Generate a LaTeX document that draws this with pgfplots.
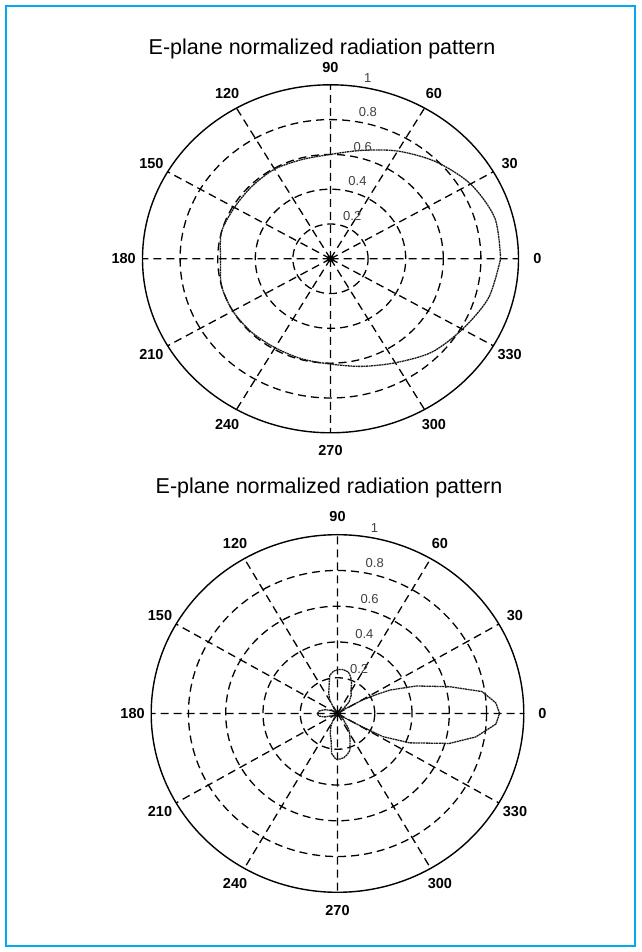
\documentclass[border=0pt]{standalone}
\usepackage{pgfplots}
\pgfplotsset{compat=1.18}
\usepackage{pgfplotstable}
\usepgfplotslibrary{polar}
\usepackage{fontspec}
\setmainfont{Liberation Sans}
\definecolor{framecol}{RGB}{0,170,235}

\pgfplotstableread{
ang r
0 0.905
15 0.905
30 0.86
45 0.79
60 0.715
75 0.645
90 0.60
105 0.59
120 0.595
135 0.59
150 0.59
165 0.60
180 0.585
195 0.60
210 0.60
225 0.595
240 0.59
255 0.595
270 0.605
285 0.64
300 0.69
315 0.76
330 0.81
345 0.87
360 0.905
}\toppattern

\pgfplotstableread{
ang r
0 0.870
4 0.852
9 0.785
14 0.62
20 0.45
25 0.31
27 0.23
29.5 0.15
32 0.05
35 0.01
40 0.04
46 0.09
54 0.125
61 0.150
66 0.185
71 0.217
76 0.240
84 0.248
90 0.245
95 0.238
101 0.218
107 0.156
113 0.12
119 0.085
125 0.03
135 0.01
150 0.03
162 0.07
172 0.10
180 0.107
188 0.103
196 0.07
210 0.02
225 0.01
238 0.05
244 0.083
251 0.12
257 0.153
262 0.226
268 0.256
273 0.255
278 0.249
283 0.235
288 0.216
292 0.18
297 0.146
302 0.12
306 0.092
314 0.039
322 0.02
329 0.06
330.5 0.14
332 0.275
337 0.42
344.4 0.623
350 0.754
356 0.852
360 0.870
}\botpattern

\pgfplotsset{
  mypolar/.style={
    scale only axis, anchor=center,
    ymin=0, ymax=1,
    xtick={0,30,...,330}, ytick={0.2,0.4,0.6,0.8},
    xticklabels={}, yticklabels={},
    major tick length=0pt,
    grid=major,
    major grid style={dash pattern=on 8pt off 5pt, line width=1.3pt, black},
    x axis line style={line width=1.4pt, black},
    y axis line style={draw=none},
    clip=false,
  },
}
\tikzset{
  anglab/.style={font=\fontsize{14.5}{14.5}\selectfont\bfseries, inner sep=0pt},
  radlab/.style={font=\fontsize{13}{13}\selectfont, text=black!75, anchor=south west, inner sep=0pt, xshift=7pt, yshift=2pt},
  pat/.style={black!90, line width=1.3pt, dash pattern=on 2pt off 0.6pt},
}

\newcommand{\anglelabels}{%
  \node[anglab] at (axis cs:0,1.1) {0};
  \node[anglab] at (axis cs:30,1.1) {30};
  \node[anglab] at (axis cs:60,1.1) {60};
  \node[anglab] at (axis cs:90,1.1) {90};
  \node[anglab] at (axis cs:120,1.1) {120};
  \node[anglab] at (axis cs:150,1.1) {150};
  \node[anglab] at (axis cs:180,1.1) {180};
  \node[anglab] at (axis cs:210,1.1) {210};
  \node[anglab] at (axis cs:240,1.1) {240};
  \node[anglab] at (axis cs:270,1.1) {270};
  \node[anglab] at (axis cs:300,1.1) {300};
  \node[anglab] at (axis cs:330,1.1) {330};
  \node[radlab] at (axis cs:82,0.21) {0.2};
  \node[radlab] at (axis cs:82,0.41) {0.4};
  \node[radlab] at (axis cs:82,0.61) {0.6};
  \node[radlab] at (axis cs:82,0.81) {0.8};
  \node[radlab] at (axis cs:82,1.01) {1};
}

\begin{document}
\begin{tikzpicture}[x=1pt,y=1pt]
\path (0,0) rectangle (641,952);
\draw[framecol, line width=2pt] (6.3,6.3) rectangle (634.7,945.7);

\node[anchor=base, font=\fontsize{21.5}{21.5}\selectfont] at (322,897.6) {E-plane normalized radiation pattern};
\node[anchor=base, font=\fontsize{21.5}{21.5}\selectfont] at (329,458) {E-plane normalized radiation pattern};

\begin{polaraxis}[mypolar, at={(330.5pt,693.2pt)}, width=376pt, height=348pt]
  \addplot[pat, smooth, tension=0.5] table[x=ang, y=r] {\toppattern};
  \anglelabels
\end{polaraxis}

\begin{polaraxis}[mypolar, at={(337.5pt,238.5pt)}, width=372.6pt, height=357.6pt]
  \addplot[pat] table[x=ang, y=r] {\botpattern};
  \anglelabels
\end{polaraxis}
\end{tikzpicture}
\end{document}
